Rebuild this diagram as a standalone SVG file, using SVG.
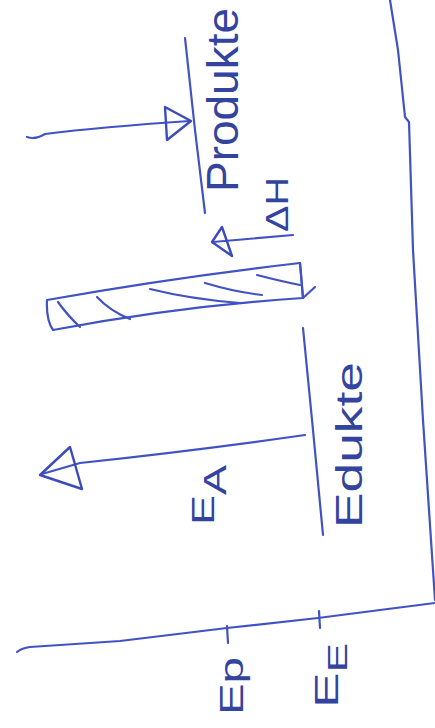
<svg xmlns="http://www.w3.org/2000/svg" width="435" height="728" viewBox="0 0 435 728">
<style>
.ln{fill:none;stroke:#4152c4;stroke-width:2.2;stroke-linecap:round;stroke-linejoin:round}
.hd{fill:none;stroke:#3b4bbb;stroke-width:2.4;stroke-linejoin:round}
.tx{fill:#33449f;font-family:"Liberation Sans","DejaVu Sans",sans-serif}
</style>
<rect width="435" height="728" fill="#ffffff"/>
<g id="axes">
<path class="ln" d="M390,0 L398,50 L405,117 L409,122 L413,250 L423,420 L433,570 L435,600"/>
<path class="ln" d="M17,652 Q22,648 30,647 L120,641 L227,628 L318,618 L380,610 L435,603"/>
<path class="ln" d="M227,626 L228,643"/>
<path class="ln" d="M319,611 L320,628"/>
</g>
<g id="edukte">
<path class="ln" d="M303,328 L313,430 L323,535"/>
<text class="tx" font-size="36" textLength="166" lengthAdjust="spacingAndGlyphs" transform="translate(362,528) rotate(-90)">Edukte</text>
</g>
<g id="produkte">
<path class="ln" d="M185,38 L195,130 L205,213"/>
<text class="tx" font-size="44" textLength="184" lengthAdjust="spacingAndGlyphs" transform="translate(238,192) rotate(-90)">Produkte</text>
</g>
<g id="uebergangszustand">
<path class="ln" d="M47,300 Q170,278 300,263 L303,298 Q180,306 53,330 Q46,320 47,300 Z"/>
<path class="ln" stroke-width="3" d="M300,263 L303,298 L315,287"/>
<path class="ln" d="M58,302 Q68,316 80,327"/>
<path class="ln" d="M97,297 Q110,311 130,319"/>
<path class="ln" d="M150,289 Q190,299 240,303"/>
<path class="ln" d="M205,283 Q235,292 262,295"/>
<path class="ln" d="M257,275 Q280,281 300,285"/>
</g>
<g id="label-ea">
<text class="tx" font-size="32" textLength="60" lengthAdjust="spacingAndGlyphs" transform="translate(214,525) rotate(-90)">E<tspan dy="12">A</tspan></text>
</g>
<g id="label-dh">
<text class="tx" font-size="32" textLength="55" lengthAdjust="spacingAndGlyphs" transform="translate(288,232) rotate(-90)">ΔH</text>
</g>
<g id="label-ep">
<text class="tx" font-size="34" textLength="58" lengthAdjust="spacingAndGlyphs" transform="translate(243,715) rotate(-90)">Ep</text>
</g>
<g id="label-ee">
<text class="tx" font-size="34" textLength="65" lengthAdjust="spacingAndGlyphs" transform="translate(338,708) rotate(-90)">E<tspan dy="9" font-size="28">E</tspan></text>
</g>
<g id="connectors">
<path class="ln" d="M305,435 Q200,450 80,463 L42,474"/>
<polygon class="hd" points="40,475 70,447 82,489"/>
<path class="ln" d="M27,137 Q35,140 45,134 Q100,127 190,121"/>
<polygon class="hd" points="191,121 165,107 167,140"/>
<path class="ln" d="M293,235 L213,242"/>
<polygon class="hd" points="212,242 222,227 232,256"/>
</g>
</svg>
